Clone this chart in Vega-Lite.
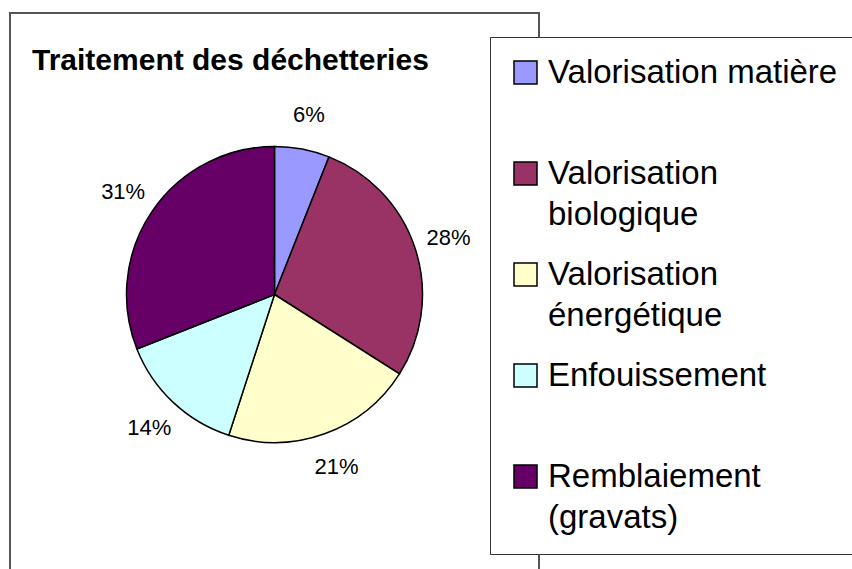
{
  "$schema": "https://vega.github.io/schema/vega-lite/v6.json",
  "width": 529,
  "height": 563,
  "autosize": {"type": "none"},
  "padding": {"left": 10, "top": 13, "right": 313, "bottom": 0},
  "background": "white",
  "view": {"stroke": "#555555", "strokeWidth": 2},
  "title": {
    "text": "Traitement des déchetteries",
    "anchor": "start",
    "frame": "group",
    "font": "Liberation Sans",
    "fontSize": 30,
    "fontWeight": "bold",
    "color": "black",
    "baseline": "alphabetic",
    "offset": -57,
    "dx": 22,
    "dy": 30
  },
  "data": {
    "values": [
      {"categorie": "Valorisation matière", "part": 0.06, "ordre": 1},
      {"categorie": "Valorisation biologique", "part": 0.28, "ordre": 2},
      {"categorie": "Valorisation énergétique", "part": 0.21, "ordre": 3},
      {"categorie": "Enfouissement", "part": 0.14, "ordre": 4},
      {"categorie": "Remblaiement (gravats)", "part": 0.31, "ordre": 5}
    ]
  },
  "encoding": {
    "theta": {"field": "part", "type": "quantitative", "stack": true},
    "order": {"field": "ordre", "type": "quantitative"}
  },
  "layer": [
    {
      "mark": {"type": "arc", "outerRadius": 148, "stroke": "black", "strokeWidth": 1.5},
      "encoding": {
        "color": {
          "field": "categorie",
          "type": "nominal",
          "sort": ["Valorisation matière", "Valorisation biologique", "Valorisation énergétique", "Enfouissement", "Remblaiement (gravats)"],
          "scale": {
            "domain": ["Valorisation matière", "Valorisation biologique", "Valorisation énergétique", "Enfouissement", "Remblaiement (gravats)"],
            "range": ["#9999FF", "#993366", "#FFFFCC", "#CCFFFF", "#660066"]
          },
          "legend": {
            "orient": "none",
            "legendX": 480,
            "legendY": 24,
            "title": null,
            "strokeColor": "#333333",
            "fillColor": "white",
            "padding": 19,
            "symbolType": "square",
            "symbolSize": 529,
            "symbolStrokeColor": "black",
            "symbolStrokeWidth": 1.5,
            "labelFont": "Liberation Sans",
            "labelFontSize": 33,
            "labelColor": "black",
            "labelOffset": 6,
            "labelLimit": 500,
            "rowPadding": 26,
            "labelBaseline": "top",
            "labelExpr": "datum.label == 'Valorisation matière' || datum.label == 'Enfouissement' ? [datum.label, ''] : split(datum.label, ' ')",
            "encode": {"labels": {"update": {"lineHeight": {"value": 41}, "dy": {"value": -16}}}}
          }
        }
      }
    },
    {
      "mark": {"type": "text", "radius": 183, "font": "Liberation Sans", "fontSize": 22, "color": "black"},
      "encoding": {
        "text": {"field": "part", "type": "quantitative", "format": ".0%"}
      }
    }
  ]
}
